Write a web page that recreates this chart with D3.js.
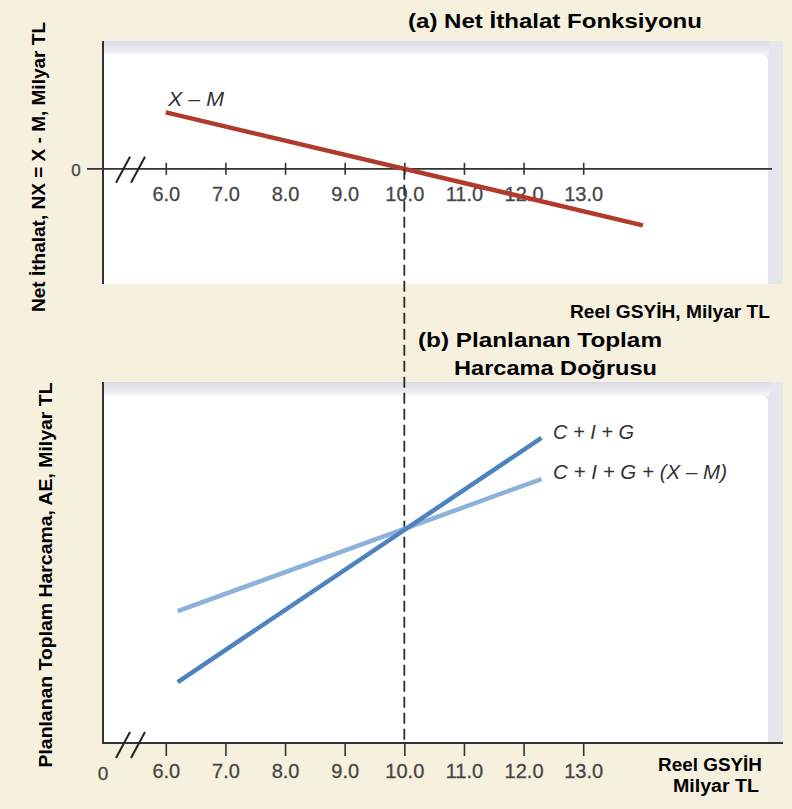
<!DOCTYPE html>
<html>
<head>
<meta charset="utf-8">
<script src="https://cdn.jsdelivr.net/npm/d3@7/dist/d3.min.js"></script>
<style>
  html, body { margin: 0; padding: 0; background: #F6F0DF; }
  svg { display: block; }
  text { font-family: "Liberation Sans", Arial, Helvetica, sans-serif; }
</style>
</head>
<body>
<svg id="chart" width="792" height="809"></svg>
<script>
// ---------------- data ----------------
const xTicks = [6, 7, 8, 9, 10, 11, 12, 13];
const xTickLabels = ["6.0", "7.0", "8.0", "9.0", "10.0", "11.0", "12.0", "13.0"];
const equilibriumY = 10;
// (a) net exports X - M
const nxGDP = [6.0, 14.0];
const nxValues = [0.95, -0.95];
// (b) planned aggregate expenditure
const aeGDP = [6.2, 12.3];
const cigValues = [7.41, 11.51];
const cigNxValues = [8.60, 10.82];

const titleA = "(a) Net İthalat Fonksiyonu";
const titleB1 = "(b) Planlanan Toplam";
const titleB2 = "Harcama Doğrusu";
const yLabelA = "Net İthalat, NX = X - M, Milyar TL";
const yLabelB = "Planlanan Toplam Harcama, AE, Milyar TL";
const xLabelA = "Reel GSYİH, Milyar TL";
const xLabelB1 = "Reel GSYİH";
const xLabelB2 = "Milyar TL";
const labelNX = "X – M";
const labelCIG = "C + I + G";
const labelCIGNX = "C + I + G + (X – M)";

// ---------------- setup ----------------
const svg = d3.select("#chart");
const W = 792, H = 809;
svg.append("rect").attr("width", W).attr("height", H).attr("fill", "#F6F0DF");

const defs = svg.append("defs");
const gTop = defs.append("linearGradient").attr("id", "gTop").attr("x1", 0).attr("y1", 0).attr("x2", 0).attr("y2", 1);
gTop.append("stop").attr("offset", 0).attr("stop-color", "#D9DBE3");
gTop.append("stop").attr("offset", 1).attr("stop-color", "#F4F5F8");
const gRight = defs.append("linearGradient").attr("id", "gRight").attr("x1", 0).attr("y1", 0).attr("x2", 1).attr("y2", 0);
gRight.append("stop").attr("offset", 0).attr("stop-color", "#EEEFF3");
gRight.append("stop").attr("offset", 0.6).attr("stop-color", "#DADCE4");
gRight.append("stop").attr("offset", 1).attr("stop-color", "#E6E7EC");

const x = d3.scaleLinear().domain([6, 13]).range([165.8, 583.2]);
const yA = d3.scaleLinear().domain([-1.92, 2.15]).range([283, 41]);
const yB = d3.scaleLinear().domain([6.386, 12.45]).range([743, 382]);

function panel(top, bottom) {
  const g = svg.append("g");
  g.append("rect").attr("x", 103).attr("y", top).attr("width", 680).attr("height", bottom - top).attr("fill", "url(#gRight)");
  g.append("rect").attr("x", 103).attr("y", top).attr("width", 666).attr("height", 14).attr("fill", "url(#gTop)");
  g.append("path")
    .attr("d", `M104,${top + 13} H760 Q768,${top + 13} 768,${top + 21} V${bottom} H104 Z`)
    .attr("fill", "#FFFFFF");
  return g;
}

panel(41, 284);
panel(382, 743);

const axisColor = "#333333";
const tickColor = "#474747";

// ---------------- panel (a) ----------------
svg.append("line").attr("x1", 103).attr("x2", 103).attr("y1", 41).attr("y2", 284)
  .attr("stroke", axisColor).attr("stroke-width", 2);

const axA = svg.append("g").attr("transform", `translate(0,${yA(0)})`)
  .call(d3.axisBottom(x).tickValues(xTicks).tickFormat((d, i) => xTickLabels[i]).tickSize(6).tickPadding(12));
axA.select(".domain").remove();
axA.selectAll(".tick line").attr("y1", -6).attr("y2", 6).attr("stroke", axisColor).attr("stroke-width", 1.6);
axA.selectAll(".tick text").attr("font-size", 20).attr("fill", tickColor)
  .attr("font-family", "'Liberation Sans', Arial, sans-serif").attr("dy", "0.71em")
  .attr("stroke", tickColor).attr("stroke-width", 0.3);
svg.append("line").attr("x1", 87).attr("x2", 772).attr("y1", yA(0)).attr("y2", yA(0))
  .attr("stroke", axisColor).attr("stroke-width", 1.6);
svg.append("text").attr("x", 76).attr("y", yA(0) + 7).attr("text-anchor", "middle")
  .attr("font-size", 17).attr("fill", tickColor).attr("stroke", tickColor).attr("stroke-width", 0.3).text("0");

function breakMarks(yc) {
  const g = svg.append("g");
  [[116, 130], [131, 145]].forEach(([a, b]) => {
    g.append("line").attr("x1", a).attr("y1", yc + 13).attr("x2", b).attr("y2", yc - 13)
      .attr("stroke", "#222").attr("stroke-width", 2);
  });
}
breakMarks(yA(0) + 1);

const lineA = d3.line().x(d => x(d[0])).y(d => yA(d[1]));
svg.append("path").datum(d3.zip(nxGDP, nxValues)).attr("d", lineA)
  .attr("fill", "none").attr("stroke", "#B03A2C").attr("stroke-width", 4.5);

svg.append("text").attr("x", 168).attr("y", 106).attr("font-size", 20).attr("font-style", "italic")
  .attr("fill", "#333").attr("textLength", 56).attr("lengthAdjust", "spacingAndGlyphs").text(labelNX);

svg.append("text").attr("x", 408).attr("y", 28).attr("font-size", 21).attr("font-weight", "bold")
  .attr("fill", "#000").attr("textLength", 294).attr("lengthAdjust", "spacingAndGlyphs").text(titleA);

svg.append("text").attr("transform", "translate(45,167) rotate(-90)").attr("text-anchor", "middle")
  .attr("font-size", 17.5).attr("font-weight", "bold").attr("fill", "#000")
  .attr("textLength", 290).attr("lengthAdjust", "spacingAndGlyphs").text(yLabelA);

svg.append("text").attr("x", 570).attr("y", 318).attr("font-size", 18).attr("font-weight", "bold")
  .attr("fill", "#000").attr("textLength", 200).attr("lengthAdjust", "spacingAndGlyphs").text(xLabelA);

svg.append("text").attr("x", 418).attr("y", 347).attr("font-size", 21).attr("font-weight", "bold")
  .attr("fill", "#000").attr("textLength", 244).attr("lengthAdjust", "spacingAndGlyphs").text(titleB1);
svg.append("text").attr("x", 454).attr("y", 375).attr("font-size", 21).attr("font-weight", "bold")
  .attr("fill", "#000").attr("textLength", 203).attr("lengthAdjust", "spacingAndGlyphs").text(titleB2);

// ---------------- panel (b) ----------------
svg.append("line").attr("x1", 103).attr("x2", 103).attr("y1", 382).attr("y2", 744)
  .attr("stroke", axisColor).attr("stroke-width", 2);

const axB = svg.append("g").attr("transform", `translate(0,743)`)
  .call(d3.axisBottom(x).tickValues(xTicks).tickFormat((d, i) => xTickLabels[i]).tickSize(13).tickPadding(8));
axB.select(".domain").remove();
axB.selectAll(".tick line").attr("stroke", axisColor).attr("stroke-width", 1.6);
axB.selectAll(".tick text").attr("font-size", 20).attr("fill", tickColor)
  .attr("font-family", "'Liberation Sans', Arial, sans-serif")
  .attr("stroke", tickColor).attr("stroke-width", 0.3);
svg.append("line").attr("x1", 102).attr("x2", 783).attr("y1", 743).attr("y2", 743)
  .attr("stroke", axisColor).attr("stroke-width", 2);
svg.append("text").attr("x", 103).attr("y", 780).attr("text-anchor", "middle")
  .attr("font-size", 19).attr("fill", tickColor).attr("stroke", tickColor).attr("stroke-width", 0.3).text("0");
breakMarks(745);

svg.append("line").attr("x1", x(equilibriumY)).attr("x2", x(equilibriumY))
  .attr("y1", yA(0)).attr("y2", 743)
  .attr("stroke", "#2b2b2b").attr("stroke-width", 1.8).attr("stroke-dasharray", "11,5");

const lineB = d3.line().x(d => x(d[0])).y(d => yB(d[1]));
svg.append("path").datum(d3.zip(aeGDP, cigNxValues)).attr("d", lineB)
  .attr("fill", "none").attr("stroke", "#8DB1D9").attr("stroke-width", 4.5);
svg.append("path").datum(d3.zip(aeGDP, cigValues)).attr("d", lineB)
  .attr("fill", "none").attr("stroke", "#4D83C0").attr("stroke-width", 4.5);

svg.append("text").attr("x", 553).attr("y", 439).attr("font-size", 20).attr("font-style", "italic")
  .attr("fill", "#333").attr("textLength", 81).attr("lengthAdjust", "spacingAndGlyphs").text(labelCIG);
svg.append("text").attr("x", 553).attr("y", 479).attr("font-size", 20).attr("font-style", "italic")
  .attr("fill", "#333").attr("textLength", 174).attr("lengthAdjust", "spacingAndGlyphs").text(labelCIGNX);

svg.append("text").attr("transform", "translate(52,575) rotate(-90)").attr("text-anchor", "middle")
  .attr("font-size", 18.5).attr("font-weight", "bold").attr("fill", "#000")
  .attr("textLength", 385).attr("lengthAdjust", "spacingAndGlyphs").text(yLabelB);

svg.append("text").attr("x", 658).attr("y", 771).attr("font-size", 18).attr("font-weight", "bold")
  .attr("fill", "#000").attr("textLength", 104).attr("lengthAdjust", "spacingAndGlyphs").text(xLabelB1);
svg.append("text").attr("x", 673).attr("y", 792).attr("font-size", 18).attr("font-weight", "bold")
  .attr("fill", "#000").attr("textLength", 86).attr("lengthAdjust", "spacingAndGlyphs").text(xLabelB2);
</script>
</body>
</html>
